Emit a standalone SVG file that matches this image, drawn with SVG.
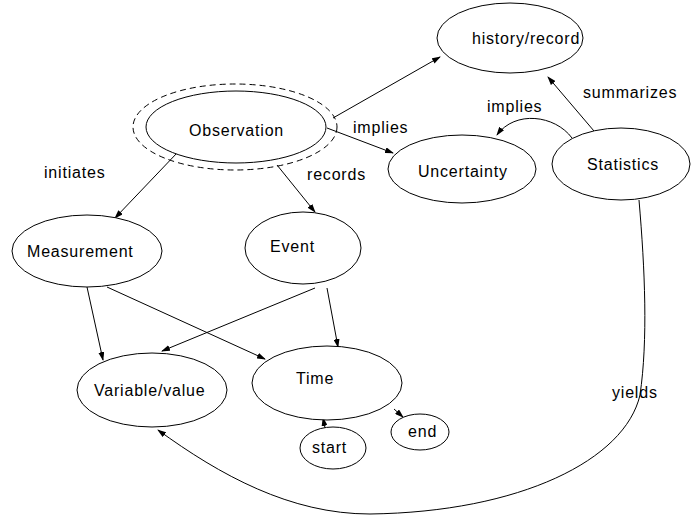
<svg xmlns="http://www.w3.org/2000/svg" width="694" height="517" viewBox="0 0 694 517">
<defs>
<marker id="ah" markerWidth="9" markerHeight="6" refX="8" refY="3" orient="auto" markerUnits="userSpaceOnUse">
<path d="M0,0 L9,3 L0,6 z" fill="#000"/>
</marker>
<style>
.n{fill:#fff;stroke:#000;stroke-width:1}
.t{font-family:"Liberation Sans",Arial,sans-serif;font-size:16px;letter-spacing:0.8px;fill:#000}
.e{fill:none;stroke:#000;stroke-width:1;marker-end:url(#ah)}
</style>
</defs>
<rect width="694" height="517" fill="#fff"/>
<g id="edges">
<line class="e" x1="333" y1="118" x2="440" y2="57"/>
<line class="e" x1="327" y1="128" x2="393" y2="153"/>
<path class="e" d="M572,138 C555,115 515,110 497,135"/>
<line class="e" x1="594" y1="131" x2="548" y2="77"/>
<line class="e" x1="177" y1="153" x2="115" y2="218"/>
<line class="e" x1="277" y1="165" x2="315" y2="212"/>
<line class="e" x1="87" y1="287" x2="103" y2="360"/>
<line class="e" x1="107" y1="287" x2="265" y2="359"/>
<line class="e" x1="315" y1="288" x2="162" y2="351"/>
<line class="e" x1="327" y1="288" x2="338" y2="347"/>
<line class="e" x1="325" y1="428" x2="323" y2="418"/>
<line class="e" x1="394" y1="409" x2="403" y2="417"/>
<path class="e" d="M639,200 C645,270 648,340 640,395 C625,460 520,512 370,514 C290,514 220,475 158,430"/>
<text class="t" x="353" y="133">implies</text>
<text class="t" x="487" y="112">implies</text>
<text class="t" x="583" y="98">summarizes</text>
<text class="t" x="44" y="178">initiates</text>
<text class="t" x="307" y="180">records</text>
<text class="t" x="612" y="398">yields</text>
</g>
<g id="observation">
<ellipse cx="235" cy="127" rx="102" ry="43" fill="none" stroke="#000" stroke-dasharray="6,4"/>
<ellipse class="n" cx="236" cy="127" rx="90" ry="36"/>
<text class="t" x="189" y="136">Observation</text>
</g>
<g id="history">
<ellipse class="n" cx="510" cy="38" rx="73" ry="35"/>
<text class="t" x="472" y="44">history/record</text>
</g>
<g id="uncertainty">
<ellipse class="n" cx="462" cy="169" rx="74" ry="34"/>
<text class="t" x="418" y="177">Uncertainty</text>
</g>
<g id="statistics">
<ellipse class="n" cx="621" cy="164" rx="69" ry="36"/>
<text class="t" x="587" y="170">Statistics</text>
</g>
<g id="measurement">
<ellipse class="n" cx="87" cy="251" rx="75" ry="36"/>
<text class="t" x="27" y="257">Measurement</text>
</g>
<g id="event">
<ellipse class="n" cx="303" cy="248" rx="58" ry="36"/>
<text class="t" x="270" y="252">Event</text>
</g>
<g id="variable">
<ellipse class="n" cx="152" cy="390" rx="75" ry="37"/>
<text class="t" x="94" y="396">Variable/value</text>
</g>
<g id="time">
<ellipse class="n" cx="327" cy="383" rx="75" ry="37"/>
<text class="t" x="296" y="384">Time</text>
</g>
<g id="start">
<ellipse class="n" cx="333" cy="448" rx="33" ry="21"/>
<text class="t" x="312" y="453">start</text>
</g>
<g id="end">
<ellipse class="n" cx="420" cy="432" rx="29" ry="18"/>
<text class="t" x="408" y="437">end</text>
</g>
</svg>
